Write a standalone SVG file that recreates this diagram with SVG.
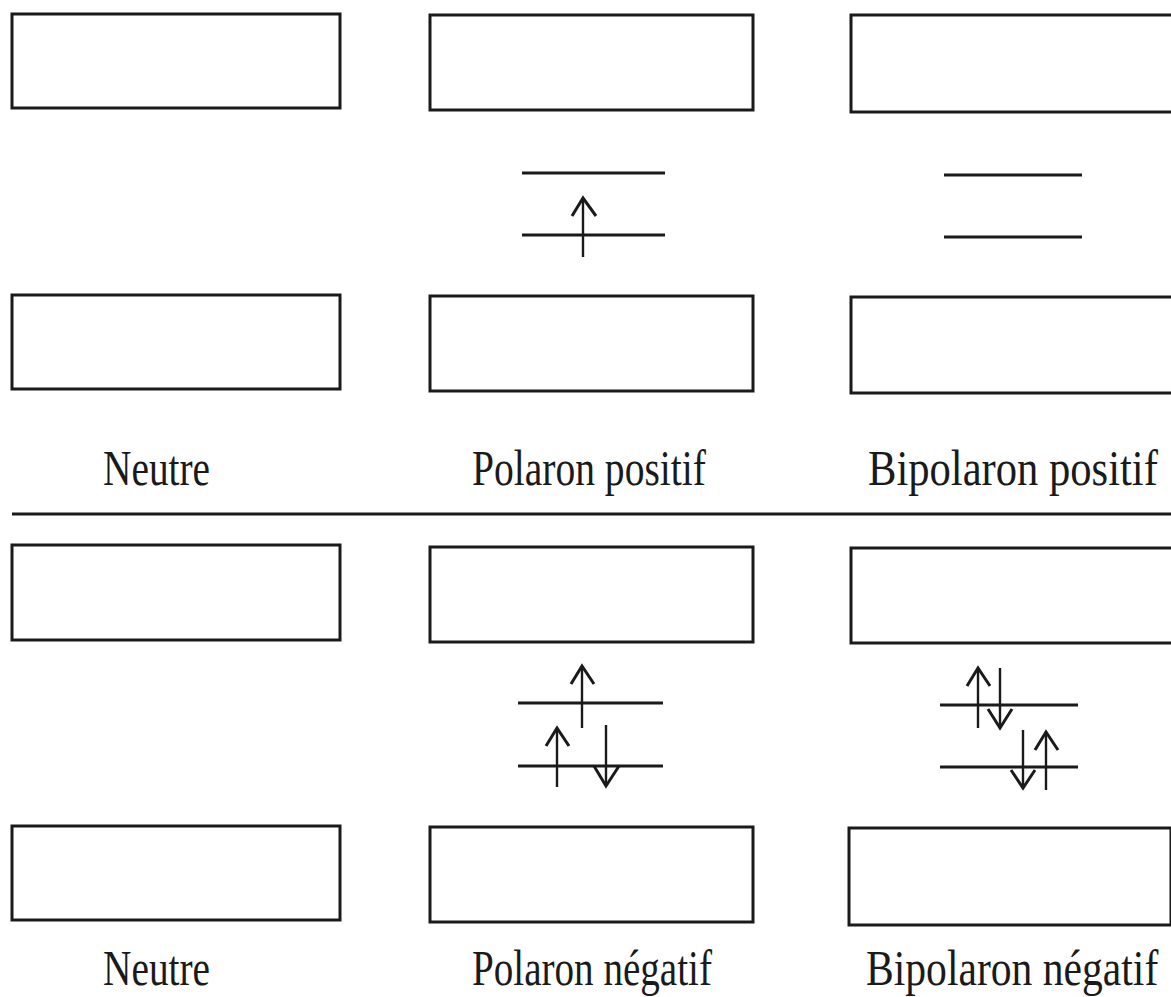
<svg xmlns="http://www.w3.org/2000/svg" width="1171" height="997" viewBox="0 0 1171 997">
<style>
.box{fill:#fff;stroke:#1a1a1a;stroke-width:3}
.lvl{stroke:#1a1a1a;stroke-width:3;fill:none}
.arr{stroke:#1a1a1a;stroke-width:2.4;fill:none}
.head{stroke:#1a1a1a;stroke-width:3;fill:none;stroke-linejoin:miter}
.lbl{font-family:"Liberation Serif","Times New Roman",serif;font-size:50px;fill:#1a1a1a}
</style>
<rect width="1171" height="997" fill="#fff"/>
<g id="neutre-pos">
<rect class="box" x="12" y="14" width="328" height="94"/>
<rect class="box" x="12" y="295" width="328" height="94"/>
<text class="lbl" transform="translate(103,485) scale(0.787,1)">Neutre</text>
</g>
<g id="polaron-pos">
<rect class="box" x="430" y="15" width="323" height="95"/>
<rect class="box" x="430" y="296" width="323" height="95"/>
<text class="lbl" transform="translate(472,485) scale(0.791,1)">Polaron positif</text>
</g>
<g id="bipolaron-pos">
<rect class="box" x="851" y="15" width="322" height="97"/>
<rect class="box" x="851" y="297" width="322" height="96"/>
<text class="lbl" transform="translate(868,485) scale(0.852,1)">Bipolaron positif</text>
</g>
<line class="lvl" x1="12" y1="514" x2="1171" y2="514"/>
<g id="neutre-neg">
<rect class="box" x="12" y="545" width="328" height="95"/>
<rect class="box" x="12" y="826" width="328" height="94"/>
<text class="lbl" transform="translate(103,985) scale(0.787,1)">Neutre</text>
</g>
<g id="polaron-neg">
<rect class="box" x="430" y="547" width="323" height="95"/>
<rect class="box" x="430" y="827" width="323" height="95"/>
<text class="lbl" transform="translate(472,985) scale(0.782,1)">Polaron négatif</text>
</g>
<g id="bipolaron-neg">
<rect class="box" x="851" y="548" width="322" height="95"/>
<rect class="box" x="849" y="828" width="322" height="97"/>
<text class="lbl" transform="translate(866,985) scale(0.832,1)">Bipolaron négatif</text>
</g>
<g id="connectors">
<line class="lvl" x1="522" y1="173" x2="665" y2="173"/>
<line class="lvl" x1="522" y1="235" x2="665" y2="235"/>
<line class="arr" x1="583" y1="257" x2="583" y2="198"/>
<polyline class="head" points="572,216 583,198 596,216"/>
<line class="lvl" x1="944" y1="175" x2="1082" y2="175"/>
<line class="lvl" x1="944" y1="237" x2="1082" y2="237"/>
<line class="lvl" x1="518" y1="703" x2="663" y2="703"/>
<line class="lvl" x1="518" y1="766" x2="663" y2="766"/>
<line class="arr" x1="582" y1="728" x2="582" y2="666"/>
<polyline class="head" points="571,684 582,666 594,684"/>
<line class="arr" x1="557" y1="787" x2="557" y2="728"/>
<polyline class="head" points="546,746 557,728 569,746"/>
<line class="arr" x1="606" y1="725" x2="606" y2="786"/>
<polyline class="head" points="594,766 606,786 619,766"/>
<line class="lvl" x1="940" y1="705" x2="1078" y2="705"/>
<line class="lvl" x1="940" y1="767" x2="1078" y2="767"/>
<line class="arr" x1="978" y1="728" x2="978" y2="668"/>
<polyline class="head" points="967,686 978,668 990,686"/>
<line class="arr" x1="1000" y1="668" x2="1000" y2="728"/>
<polyline class="head" points="988,709 1000,728 1012,709"/>
<line class="arr" x1="1023" y1="730" x2="1023" y2="788"/>
<polyline class="head" points="1011,770 1023,788 1035,770"/>
<line class="arr" x1="1046" y1="790" x2="1046" y2="732"/>
<polyline class="head" points="1035,750 1046,732 1058,750"/>
</g>
</svg>
